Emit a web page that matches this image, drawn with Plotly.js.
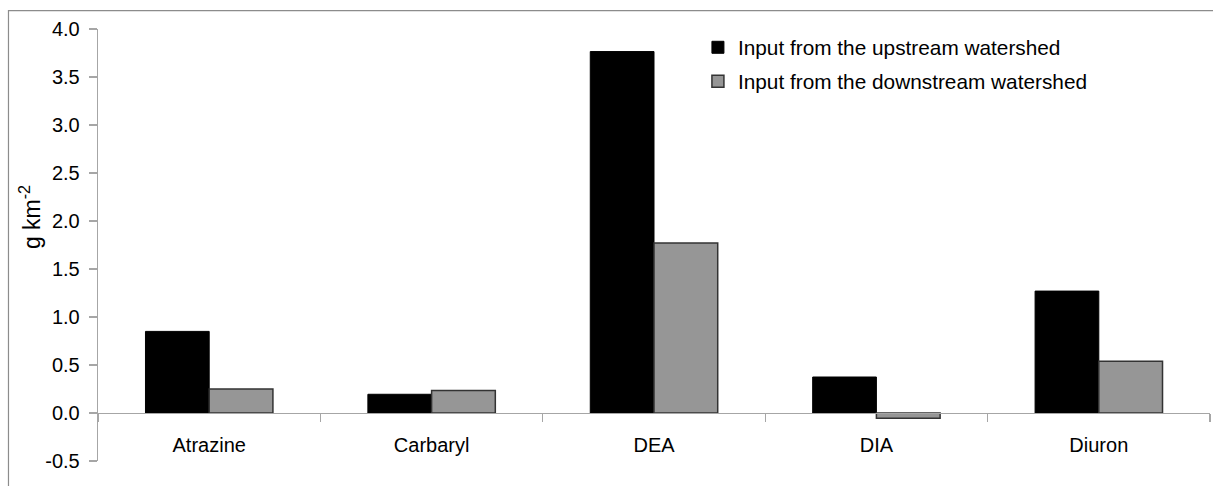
<!DOCTYPE html>
<html>
<head>
<meta charset="utf-8">
<script src="https://cdn.plot.ly/plotly-3.0.1.min.js"></script>
<style>
html,body{margin:0;padding:0;background:#fff;}
#chart{width:1213px;height:486px;}
</style>
</head>
<body>
<div id="chart"></div>
<script>
const categories = ["Atrazine", "Carbaryl", "DEA", "DIA", "Diuron"];
const upstream = [0.85, 0.195, 3.765, 0.375, 1.27];
const downstream = [0.25, 0.235, 1.77, -0.055, 0.54];
const seriesNames = ["Input from the upstream watershed", "Input from the downstream watershed"];
const yTicks = [-0.5, 0, 0.5, 1, 1.5, 2, 2.5, 3, 3.5, 4];
const yTickText = ["-0.5", "0.0", "0.5", "1.0", "1.5", "2.0", "2.5", "3.0", "3.5", "4.0"];

const FONT = "Liberation Sans, Arial, sans-serif";

const traces = [
  {
    type: "bar", x: categories, y: upstream, name: seriesNames[0],
    legendgroup: "a",
    marker: {color: "#000000", line: {color: "#000000", width: 1}}
  },
  {
    type: "bar", x: categories, y: downstream, name: seriesNames[1],
    legendgroup: "b",
    marker: {color: "#969696", line: {color: "#333333", width: 1.5}}
  }
];

const yMin = -0.5, yMax = 4.0;

const layout = {
  width: 1213, height: 486,
  margin: {l: 98, r: 3, t: 29, b: 25},
  paper_bgcolor: "#ffffff", plot_bgcolor: "#ffffff",
  font: {family: FONT, size: 19, color: "#000000"},
  barmode: "group", bargap: 0.427, bargroupgap: 0,
  showlegend: true,
  legend: {
    x: 0.5395, y: 1.004, xanchor: "left", yanchor: "top",
    font: {family: FONT, size: 20.8, color: "#000"},
    tracegroupgap: 4, bgcolor: "rgba(0,0,0,0)"
  },
  xaxis: {
    type: "category",
    anchor: "free",
    position: (0 - yMin) / (yMax - yMin),
    showline: true, linecolor: "#a6a6a6", linewidth: 1.3,
    ticks: "outside", tickson: "boundaries", ticklen: 8, tickcolor: "#a6a6a6", tickwidth: 1.3,
    showgrid: false, zeroline: false,
    tickfont: {family: FONT, size: 20, color: "#000"},
    ticklabelstandoff: 14
  },
  yaxis: {
    range: [yMin, yMax],
    tickvals: yTicks,
    ticktext: yTickText,
    showline: true, linecolor: "#a6a6a6", linewidth: 1.3,
    ticks: "outside", ticklen: 8, tickcolor: "#a6a6a6", tickwidth: 1.3,
    showgrid: false, zeroline: false,
    tickfont: {family: FONT, size: 20, color: "#000"},
    ticklabelstandoff: 5
  },
  shapes: [
    {type: "rect", xref: "paper", yref: "paper",
     x0: -0.0805, x1: 1.05, y0: -0.2, y1: 1.0425,
     line: {color: "#8c8c8c", width: 1.2}, fillcolor: "rgba(0,0,0,0)", layer: "below"}
  ],
  annotations: [
    {text: "g km<sup>-2</sup>", xref: "paper", yref: "paper",
     x: -0.061, y: 0.565, xanchor: "center", yanchor: "middle",
     textangle: -90, showarrow: false,
     font: {family: FONT, size: 23, color: "#000"}}
  ]
};

Plotly.newPlot("chart", traces, layout, {displayModeBar: false, staticPlot: true});
</script>
</body>
</html>
